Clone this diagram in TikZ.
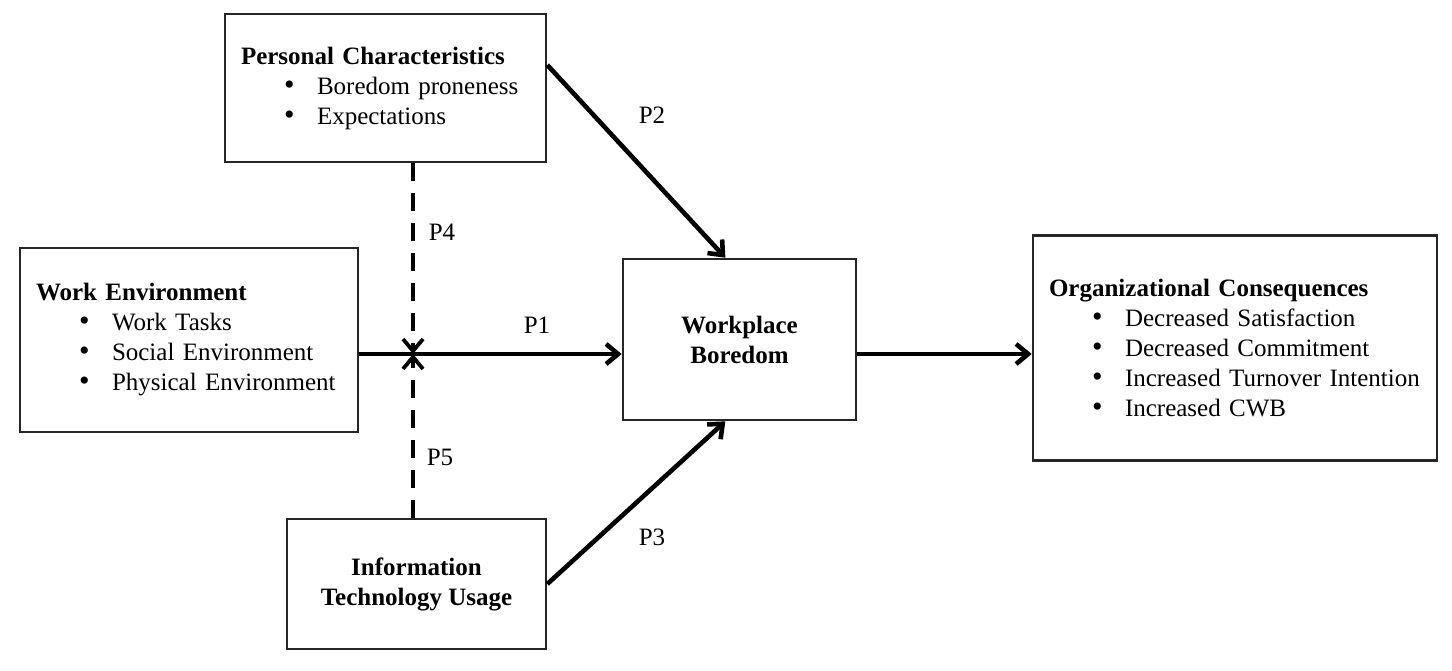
\documentclass[tikz,border=0pt]{standalone}
\usepackage{fontspec}
\setmainfont{Liberation Serif}
\usetikzlibrary{arrows.meta,calc}
\newcommand{\bulitem}[1]{\hspace*{21.5pt}\makebox[16.5pt][l]{\fontsize{15}{15}\selectfont\textbullet}#1}
\tikzset{
  cbox/.style={rectangle, draw=black!85, line width=1.3pt, fill=white,
               inner xsep=8pt, align=left, font=\fontsize{12.5}{15}\selectfont},
  cmain/.style={rectangle, draw=black!85, line width=1.3pt, fill=white,
                align=center, font=\fontsize{12.5}{15}\selectfont\bfseries},
  conn/.style={-{Straight Barb[length=6pt,width=10pt]}, line width=2.3pt},
  modline/.style={-{Straight Barb[length=6pt,width=10pt]}, line width=1.9pt,
                  dash pattern=on 9pt off 6pt},
  plabel/.style={font=\fontsize{12.5}{15}\selectfont},
}
\begin{document}
\begin{tikzpicture}[x=0.5pt,y=-0.5pt]
  \useasboundingbox (0,0) rectangle (1452,670);
  % Boxes
  \node[cbox, minimum width=160.5pt, minimum height=74pt, text width=144.5pt] (pc) at (385.5,88)
    {\textbf{Personal Characteristics}\\ \bulitem{Boredom proneness}\\ \bulitem{Expectations}};
  \node[cbox, minimum width=169pt, minimum height=92pt, text width=153pt] (we) at (189,340)
    {\textbf{Work Environment}\\ \bulitem{Work Tasks}\\ \bulitem{Social Environment}\\ \bulitem{Physical Environment}};
  \node[cmain, minimum width=116.5pt, minimum height=80.5pt] (wb) at (739.5,339.5)
    {Workplace\\Boredom};
  \node[cmain, minimum width=129.5pt, minimum height=65pt] (itu) at (416.5,584)
    {Information\\Technology Usage};
  \node[cbox, minimum width=202pt, minimum height=112.5pt, text width=186pt] (oc) at (1235,348)
    {\textbf{Organizational Consequences}\\ \bulitem{Decreased Satisfaction}\\ \bulitem{Decreased Commitment}\\ \bulitem{Increased Turnover Intention}\\ \bulitem{Increased CWB}};
  % Crossing point of the moderators
  \coordinate (mid) at (413,354);
  % Main paths
  \draw[conn] (we.east |- mid) -- (wb.west |- mid);
  \draw[conn] (wb.east |- mid) -- (oc.west |- mid);
  \draw[conn] ($(pc.east)+(0,-23)$) -- ($(wb.north west)!0.44!(wb.north east)$);
  \draw[conn] (itu.east) -- ($(wb.south west)!0.44!(wb.south east)$);
  % Moderating paths
  \draw[modline] (mid |- pc.south) -- (mid);
  \draw[modline] (mid |- itu.north) -- (mid);
  % Path labels
  \node[plabel] (p1) at (537,325) {P1};
  \node[plabel] (p2) at (652,115) {P2};
  \node[plabel] (p3) at (652,537) {P3};
  \node[plabel] (p4) at (442,232) {P4};
  \node[plabel] (p5) at (440,457) {P5};
\end{tikzpicture}
\end{document}
